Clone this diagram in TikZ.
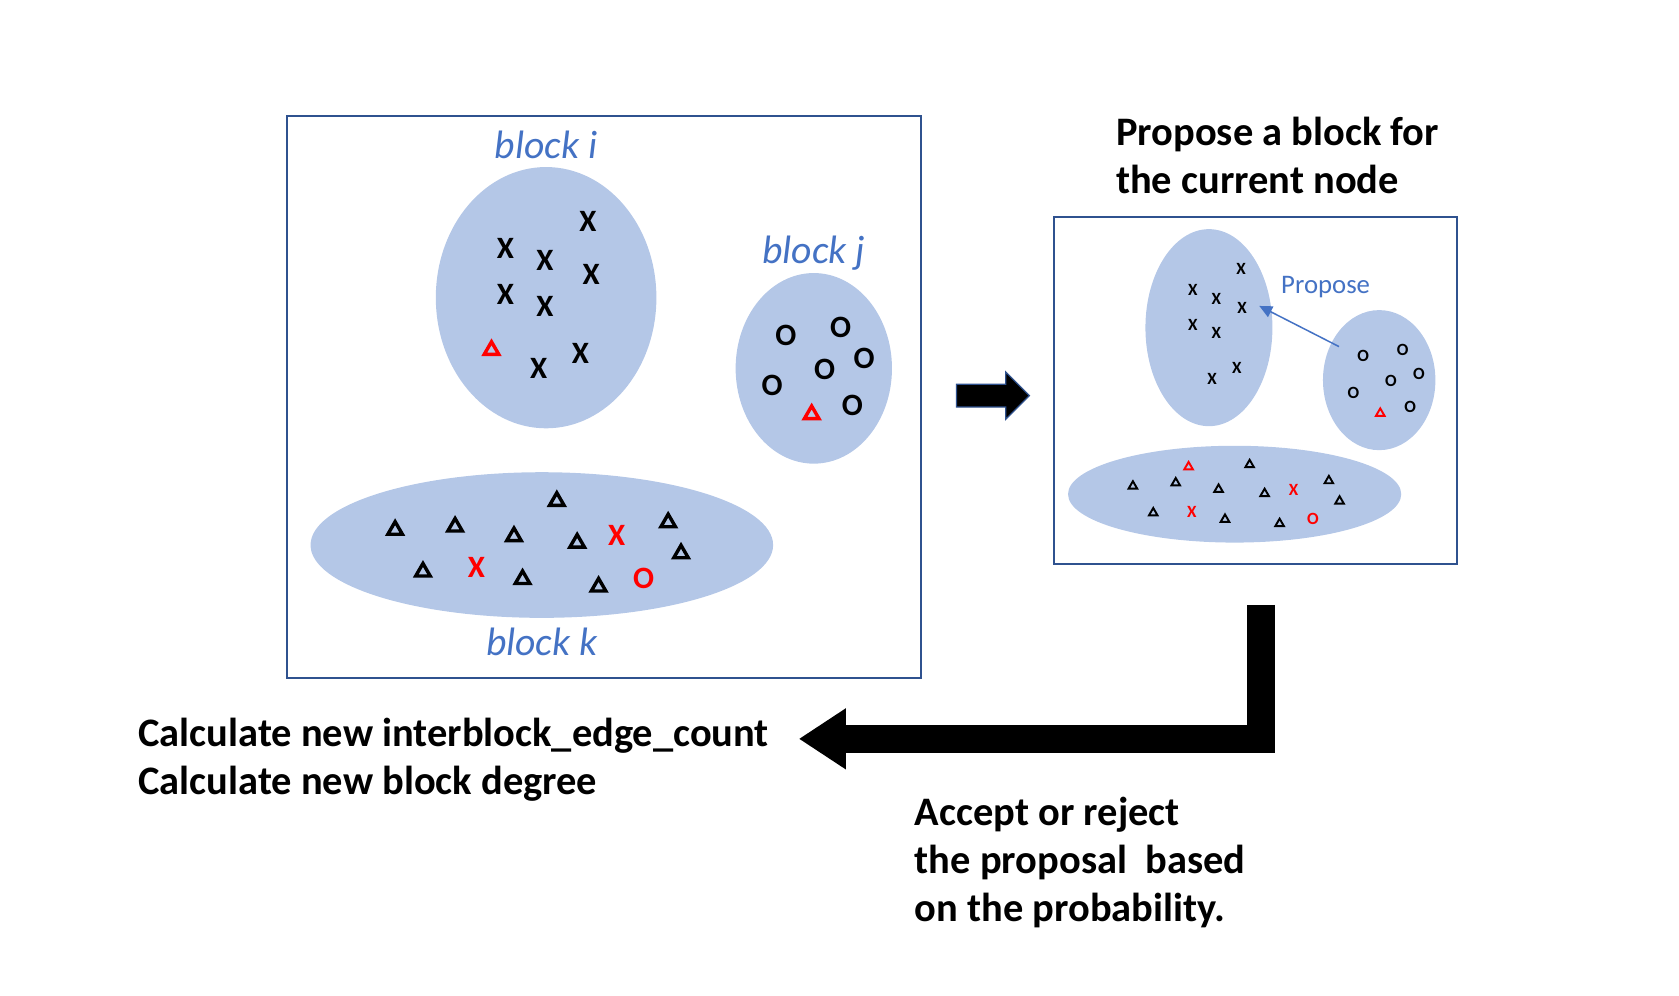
\documentclass[tikz,border=0pt]{standalone}
\usepackage{fontspec}
\setmainfont{Carlito}
\usetikzlibrary{shapes.geometric,shapes.arrows,arrows.meta}
\definecolor{blobfill}{HTML}{B4C7E7}
\definecolor{framecol}{HTML}{2F528F}
\definecolor{labelblue}{HTML}{4472C4}
\definecolor{markred}{HTML}{FF0000}
\tikzstyle{blob}=[ellipse, fill=blobfill, inner sep=0pt]
\tikzstyle{frame}=[draw=framecol, line width=1pt, inner sep=0pt]
\tikzstyle{memb}=[inner sep=0pt, font=\fontsize{14.5}{14.5}\selectfont\bfseries]
\tikzstyle{smemb}=[inner sep=0pt, font=\fontsize{8}{8}\selectfont\bfseries]
\tikzstyle{tri}=[regular polygon, regular polygon sides=3, draw, line width=1.6pt, inner sep=0pt, minimum size=7.8pt]
\tikzstyle{stri}=[regular polygon, regular polygon sides=3, draw, line width=0.9pt, inner sep=0pt, minimum size=4.6pt]
\tikzstyle{blocklabel}=[inner sep=0pt, text=labelblue, font=\fontsize{18.5}{20}\selectfont\itshape]
\tikzstyle{bigtext}=[anchor=north west, align=left, inner sep=0pt, font=\fontsize{18.9}{22.5}\selectfont\bfseries]
\newcommand{\memb}{\node[memb]}
\newcommand{\smemb}{\node[smemb]}

\begin{document}
\begin{tikzpicture}[x=0.5pt, y=-0.5pt, label distance=4.5pt]
	\useasboundingbox (0,0) rectangle (1568,930);
	% left picture
	\node[frame, minimum width=296pt, minimum height=262.5pt] (mainbox) at (564,370.5) {};
	\node[blob, minimum width=103pt, minimum height=122pt,
		label={[blocklabel, label distance=3.5pt]above:block i}] (bi) at (510,278) {};
	\node[blob, minimum width=73pt, minimum height=89pt,
		label={[blocklabel, label distance=1pt]above:block j}] (bj) at (760,344) {};
	\node[blob, minimum width=216pt, minimum height=68pt,
		label={[blocklabel]below:block k}] (bk) at (506,509) {};
	\foreach \x/\y [count=\n] in {549/207, 472/232, 509/243, 552/256, 472/275, 509/286, 542/330, 503/344}
		\memb (xi\n) at (\x,\y) {X};
	\node[tri, draw=markred] (ti) at (459,327) {};
	\foreach \x/\y [count=\n] in {734/313, 785/306, 807/335, 770/345, 721/360, 796/379}
		\memb (oj\n) at (\x,\y) {O};
	\node[tri, draw=markred] (tj) at (758,387) {};
	\foreach \x/\y [count=\n] in {369/495, 425/492, 480/501, 520/468, 539/507, 624/488, 636/517, 395/534, 488/541, 559/548}
		\node[tri] (tk\n) at (\x,\y) {};
	\node[memb, text=markred] (xk1) at (576,500) {X};
	\node[memb, text=markred] (xk2) at (445,530) {X};
	\node[memb, text=markred] (ok) at (601,540) {O};

	\node[single arrow, fill=black, draw=framecol, line width=0.6pt, inner sep=5pt,
		minimum height=34pt, single arrow head extend=5.75pt] (step1) at (922,369.5) {};

	% right picture
	\node[bigtext] (proptext) at (1042,109) {Propose a block for\\the current node};
	\node[frame, minimum width=188.5pt, minimum height=162pt] (rbox) at (1172.5,365) {};
	\node[blob, minimum width=59.3pt, minimum height=92pt] (si) at (1129,306) {};
	\node[blob, minimum width=52.5pt, minimum height=65.4pt] (sj) at (1288,355) {};
	\node[blob, minimum width=155.6pt, minimum height=45.2pt] (sk) at (1153,461.5) {};
	\foreach \x/\y [count=\n] in {1159/251, 1114/271, 1136/279, 1160/288, 1114/303, 1136/311, 1155/344, 1132/354}
		\smemb (sxi\n) at (\x,\y) {X};
	\foreach \x/\y [count=\n] in {1273/332, 1310/327, 1325/349, 1299/356, 1264/367, 1317/380}
		\smemb (soj\n) at (\x,\y) {O};
	\node[stri, draw=markred] (stj) at (1289,386) {};
	\foreach \x/\y [count=\n] in {1167/434, 1058/454, 1098/451, 1138/457, 1181/461, 1241/449, 1251/468, 1077/479, 1144/485, 1195/489}
		\node[stri] (stk\n) at (\x,\y) {};
	\node[stri, draw=markred] (stk0) at (1110,436) {};
	\node[smemb, text=markred] (sxk1) at (1113,478) {X};
	\node[smemb, text=markred] (sxk2) at (1208,458) {X};
	\node[smemb, text=markred] (sok) at (1226,485) {O};
	\node[text=labelblue, font=\fontsize{12.5}{13}\selectfont, inner sep=0pt] (proplabel) at (1238,268) {Propose};
	\coordinate (propfrom) at (1250.5,323.7);
	\coordinate (propto) at (1176,285.7);
	\draw[labelblue, line width=0.7pt, -{Triangle[width=5.5pt,length=6pt]}] (propfrom) -- (propto);

	% back to the left
	\coordinate (ltop) at (1178,565);
	\coordinate (ltip) at (746,690);
	\draw[line width=13pt, -{Triangle[width=27pt,length=22pt]}] (ltop) |- (ltip);
	\node[bigtext] (calc) at (129,670) {Calculate new interblock\_edge\_count\\Calculate new block degree};
	\node[bigtext] (accept) at (854,744) {Accept or reject\\the proposal\ \ based\\on the probability.};
\end{tikzpicture}
\end{document}
